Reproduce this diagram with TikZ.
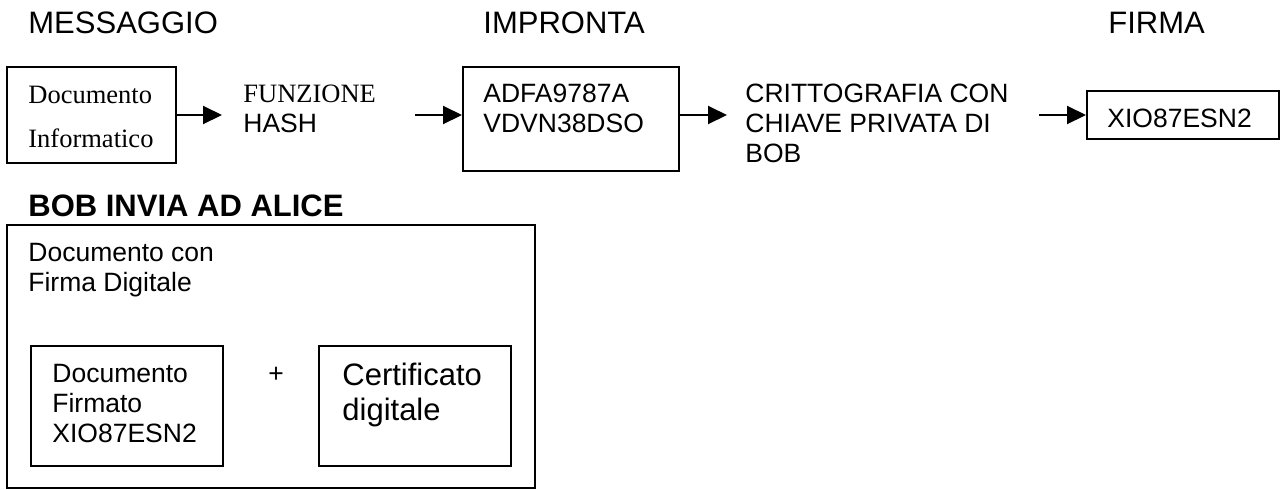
\documentclass[tikz,border=0pt]{standalone}
\usepackage{fontspec}
\setmainfont{Liberation Sans}
\newfontfamily\timesfont{Liberation Serif}
\usetikzlibrary{arrows.meta, fit, positioning}

\begin{document}
\begin{tikzpicture}[x=0.5pt, y=-0.5pt,
  every node/.style={inner sep=0pt, font=\fontsize{13.25}{15}\selectfont},
  box/.style={draw, line width=1pt, fit={#1}},
  txt/.style={anchor=base west, align=left},
  head/.style={anchor=base west, font=\fontsize{15.5}{18}\selectfont},
  arr/.style={-{Triangle[length=9.5pt, width=9pt]}, line width=1pt}]
  \useasboundingbox (0,0) rectangle (1284,489);

  % Headings
  \node[head] (hmsg) at (28,33) {MESSAGGIO};
  \node[head] (himp) at (483,33) {IMPRONTA};
  \node[head] (hfir) at (1108,33) {FIRMA};
  \node[head, font=\fontsize{15.5}{18}\selectfont\bfseries] (hbob) at (28,216) {BOB INVIA AD ALICE};

  % Upper chain (base = last line)
  \node[box={(7,67) (176,163)}] (doc) {};
  \node[txt, font=\timesfont\fontsize{13.25}{22}\selectfont] (doctxt) at (28,147) {Documento\\Informatico};
  \node[txt] (hash) at (243,132) {{\timesfont FUNZIONE}\\HASH};
  \node[box={(463,67) (679,171)}] (imp) {};
  \node[txt] (imptxt) at (483,132) {ADFA9787A\\VDVN38DSO};
  \node[txt] (crypt) at (745,162) {CRITTOGRAFIA CON\\CHIAVE PRIVATA DI\\BOB};
  \node[box={(1087,91) (1279,139)}] (fir) {};
  \node[txt] (firtxt) at (1107,127) {XIO87ESN2};

  \coordinate (hashin) at (222,115);
  \coordinate (hashout) at (415,115);
  \coordinate (cryptin) at (727,115);
  \coordinate (cryptout) at (1039,115);

  % Arrows
  \draw[arr] (doc.east) -- (hashin);
  \draw[arr] (hashout) -- (hashout -| imp.west);
  \draw[arr] (cryptin -| imp.east) -- (cryptin);
  \draw[arr] (cryptout) -- (fir.west);

  % What Bob sends
  \node[box={(7,225) (535,488)}] (pack) {};
  \node[txt] (packtxt) at (28,291) {Documento con\\Firma Digitale};
  \node[box={(31,346) (223,466)}] (signed) {};
  \node[txt] (signedtxt) at (52,442) {Documento\\Firmato\\XIO87ESN2};
  \node (plus) at (276,375) {+};
  \node[box={(319,346) (511,466)}] (cert) {};
  \node[txt, font=\fontsize{15.5}{17.5}\selectfont] (certtxt) at (342,420) {Certificato\\digitale};
\end{tikzpicture}
\end{document}
